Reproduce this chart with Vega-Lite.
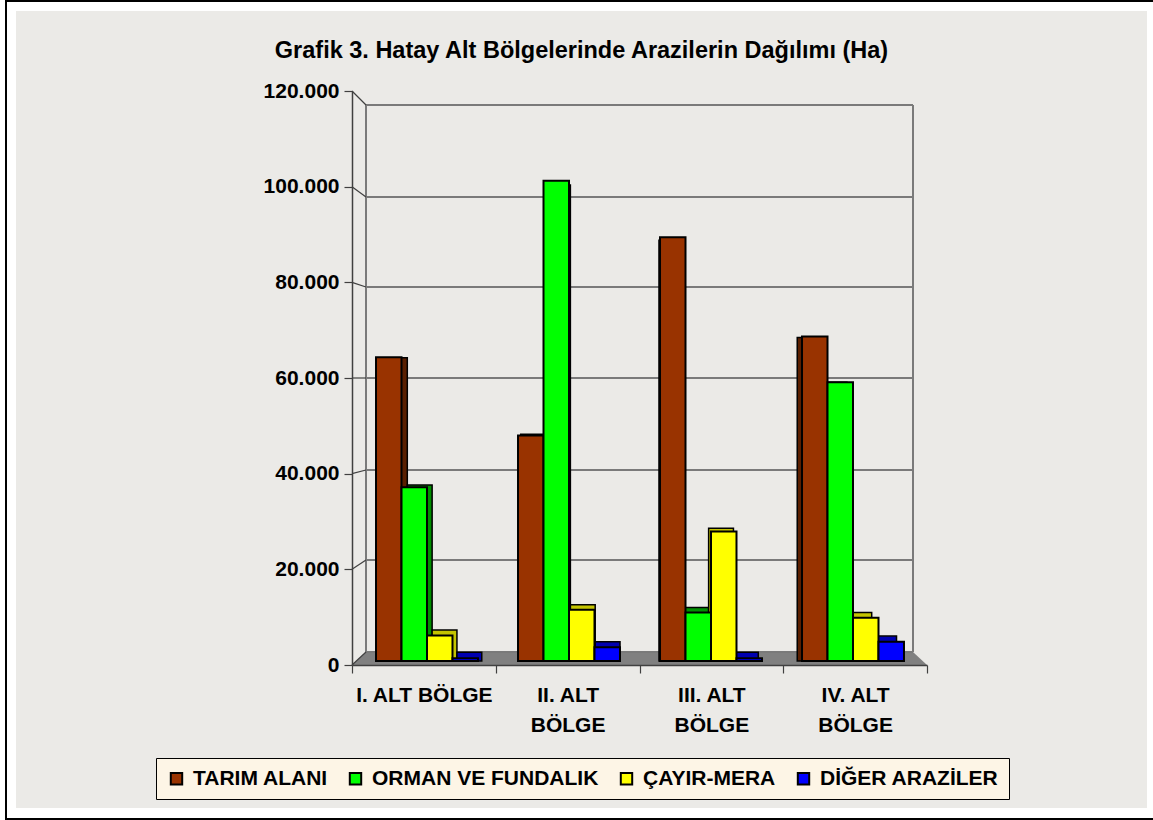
{
"$schema":"https://vega.github.io/schema/vega-lite/v6.json",
"width":575,"height":574,
"autosize":{"type":"none"},
"padding":{"left":352,"top":91,"right":226,"bottom":155},
"background":"#ffffff",
"view":{"stroke":null},
"title":{"text":"Grafik 3. Hatay Alt Bölgelerinde Arazilerin  Dağılımı (Ha)","font":"Liberation Sans","fontSize":23.5,"fontWeight":"bold","color":"#000000","anchor":"middle","dx":-58,"offset":0,"dy":62,"zindex":1},
"config":{"font":"Liberation Sans"},
"datasets":{
"bars":[
{"bolge":"I. ALT BÖLGE","tur":"TARIM ALANI","alan":64500},
{"bolge":"I. ALT BÖLGE","tur":"ORMAN VE FUNDALIK","alan":36900},
{"bolge":"I. ALT BÖLGE","tur":"ÇAYIR-MERA","alan":5400},
{"bolge":"I. ALT BÖLGE","tur":"DİĞER ARAZİLER","alan":600},
{"bolge":"II. ALT BÖLGE","tur":"TARIM ALANI","alan":47900},
{"bolge":"II. ALT BÖLGE","tur":"ORMAN VE FUNDALIK","alan":102000},
{"bolge":"II. ALT BÖLGE","tur":"ÇAYIR-MERA","alan":10900},
{"bolge":"II. ALT BÖLGE","tur":"DİĞER ARAZİLER","alan":2900},
{"bolge":"III. ALT BÖLGE","tur":"TARIM ALANI","alan":90000},
{"bolge":"III. ALT BÖLGE","tur":"ORMAN VE FUNDALIK","alan":10300},
{"bolge":"III. ALT BÖLGE","tur":"ÇAYIR-MERA","alan":27500},
{"bolge":"III. ALT BÖLGE","tur":"DİĞER ARAZİLER","alan":600},
{"bolge":"IV. ALT BÖLGE","tur":"TARIM ALANI","alan":68900},
{"bolge":"IV. ALT BÖLGE","tur":"ORMAN VE FUNDALIK","alan":59200},
{"bolge":"IV. ALT BÖLGE","tur":"ÇAYIR-MERA","alan":9200},
{"bolge":"IV. ALT BÖLGE","tur":"DİĞER ARAZİLER","alan":4100}
],
"izgara":[
{"deger":120000,"arka":117073},
{"deger":100000,"arka":97839},
{"deger":80000,"arka":79024},
{"deger":60000,"arka":60000},
{"deger":40000,"arka":40767},
{"deger":20000,"arka":21951},
{"deger":0,"arka":2718}
],
"taban":[
{"d":0,"ust":0},
{"d":14,"ust":2718},
{"d":561,"ust":2718},
{"d":575,"ust":0}
],
"cerceve":[{"x0":-346,"x1":808,"y0":-32195,"y1":138815}],
"zemin":[{"x0":-336,"x1":795,"y0":-29895,"y1":136724}],
"duvar":[{"d":14,"alt":2718,"ust":117073},{"d":561,"alt":2718,"ust":117073}]
},
"resolve":{"scale":{"x":"independent","y":"independent","color":"independent","xOffset":"independent"},"axis":{"x":"independent","y":"independent"},"legend":{"color":"independent"}},
"layer":[
{"data":{"name":"cerceve"},"mark":{"type":"rect","fill":"#ffffff","stroke":"#000000","strokeWidth":2,"clip":false},
 "encoding":{
  "x":{"field":"x0","type":"quantitative","scale":{"domain":[0,575],"nice":false,"zero":false},"axis":null},
  "x2":{"field":"x1"},
  "y":{"field":"y0","type":"quantitative","scale":{"domain":[0,120000],"nice":false},"axis":null},
  "y2":{"field":"y1"}}},
{"data":{"name":"zemin"},"mark":{"type":"rect","fill":"#ebeae7"},
 "encoding":{
  "x":{"field":"x0","type":"quantitative","scale":{"domain":[0,575],"nice":false,"zero":false},"axis":null},
  "x2":{"field":"x1"},
  "y":{"field":"y0","type":"quantitative","scale":{"domain":[0,120000],"nice":false},"axis":null},
  "y2":{"field":"y1"}}},
{"data":{"name":"taban"},"mark":{"type":"area","fill":"#808080","stroke":null},
 "encoding":{
  "x":{"field":"d","type":"quantitative","scale":{"domain":[0,575],"nice":false},"axis":null},
  "y":{"field":"ust","type":"quantitative","scale":{"domain":[0,120000],"nice":false},"axis":null},
  "y2":{"datum":0}}},
{"data":{"name":"izgara"},"mark":{"type":"rule","color":"#7a7a7a","strokeWidth":2},
 "encoding":{
  "x":{"datum":14,"type":"quantitative","scale":{"domain":[0,575],"nice":false},"axis":null},
  "x2":{"datum":561},
  "y":{"field":"arka","type":"quantitative","scale":{"domain":[0,120000],"nice":false},"axis":null}}},
{"data":{"name":"duvar"},"mark":{"type":"rule","color":"#7a7a7a","strokeWidth":2},
 "encoding":{
  "x":{"field":"d","type":"quantitative","scale":{"domain":[0,575],"nice":false},"axis":null},
  "y":{"field":"alt","type":"quantitative","scale":{"domain":[0,120000],"nice":false},"axis":null},
  "y2":{"field":"ust"}}},
{"data":{"name":"izgara"},"mark":{"type":"rule","color":"#404040","strokeWidth":1.2},
 "encoding":{
  "x":{"datum":0,"type":"quantitative","scale":{"domain":[0,575],"nice":false},"axis":null},
  "x2":{"datum":14},
  "y":{"field":"deger","type":"quantitative","scale":{"domain":[0,120000],"nice":false},
   "axis":{"zindex":1,"values":[0,20000,40000,60000,80000,100000,120000],"title":null,"grid":false,"domainColor":"#404040","domainWidth":1.5,"tickColor":"#404040","tickSize":8,"tickWidth":1.2,"labelFont":"Liberation Sans","labelFontSize":21,"labelFontWeight":"bold","labelColor":"#000000","labelPadding":5,"labelExpr":"replace(format(datum.value,','),',','.')"}},
  "y2":{"field":"arka"}}},
{"data":{"name":"bars"},"mark":{"type":"rule","opacity":0},
 "encoding":{
  "x":{"field":"bolge","type":"nominal","sort":null,"scale":{"paddingInner":0,"paddingOuter":0},
   "axis":{"zindex":1,"title":null,"domainColor":"#404040","domainWidth":1.5,"tickColor":"#404040","tickSize":8,"tickWidth":1.2,"tickBand":"extent","labelAngle":0,"labelFont":"Liberation Sans","labelFontSize":21,"labelFontWeight":"bold","labelColor":"#000000","labelPadding":11,"labelLineHeight":30,"labelLimit":200,"labelExpr":"datum.label=='I. ALT BÖLGE'||datum.label==''?datum.label:[split(datum.label,' ')[0]+' ALT','BÖLGE']"}}}},
{"data":{"name":"bars"},"mark":{"type":"bar","stroke":"#000000","strokeWidth":1.5},
 "encoding":{
  "x":{"field":"bolge","type":"nominal","sort":null,"scale":{"paddingInner":0,"paddingOuter":0,"range":[11,564]},"axis":null},
  "xOffset":{"field":"tur","type":"nominal","sort":null,"scale":{"domain":["TARIM ALANI","ORMAN VE FUNDALIK","ÇAYIR-MERA","DİĞER ARAZİLER"],"paddingOuter":0.785,"paddingInner":0}},
  "y":{"field":"alan","type":"quantitative","scale":{"domain":[0,120000],"range":[564,11],"nice":false},"axis":null},
  "y2":{"datum":-1300},
  "color":{"field":"tur","type":"nominal","scale":{"domain":["TARIM ALANI","ORMAN VE FUNDALIK","ÇAYIR-MERA","DİĞER ARAZİLER"],"range":["#5a1f00","#009000","#c4c400","#0000b0"]},"legend":null}}},
{"data":{"name":"bars"},"mark":{"type":"bar","stroke":"#000000","strokeWidth":2},
 "encoding":{
  "x":{"field":"bolge","type":"nominal","sort":null,"scale":{"paddingInner":0,"paddingOuter":0,"range":[4,572]},"axis":null},
  "xOffset":{"field":"tur","type":"nominal","sort":null,"scale":{"domain":["TARIM ALANI","ORMAN VE FUNDALIK","ÇAYIR-MERA","DİĞER ARAZİLER"],"paddingOuter":0.785,"paddingInner":0}},
  "y":{"field":"alan","type":"quantitative","scale":{"domain":[0,120000],"range":[570,5],"nice":false},"axis":null},
  "color":{"field":"tur","type":"nominal","scale":{"domain":["TARIM ALANI","ORMAN VE FUNDALIK","ÇAYIR-MERA","DİĞER ARAZİLER"],"range":["#993300","#00ff00","#ffff00","#0000ff"]},
   "legend":{"title":null,"orient":"none","legendX":-196,"legendY":667,"direction":"horizontal","columns":4,"fillColor":"#fdf5e6","strokeColor":"#000000","padding":10,"symbolType":"square","symbolSize":130,"symbolStrokeColor":"#000000","symbolStrokeWidth":2,"labelFont":"Liberation Sans","labelFontSize":21,"labelFontWeight":"bold","labelColor":"#000000","labelLimit":300,"columnPadding":17,"labelOffset":6}}}}
]
}
